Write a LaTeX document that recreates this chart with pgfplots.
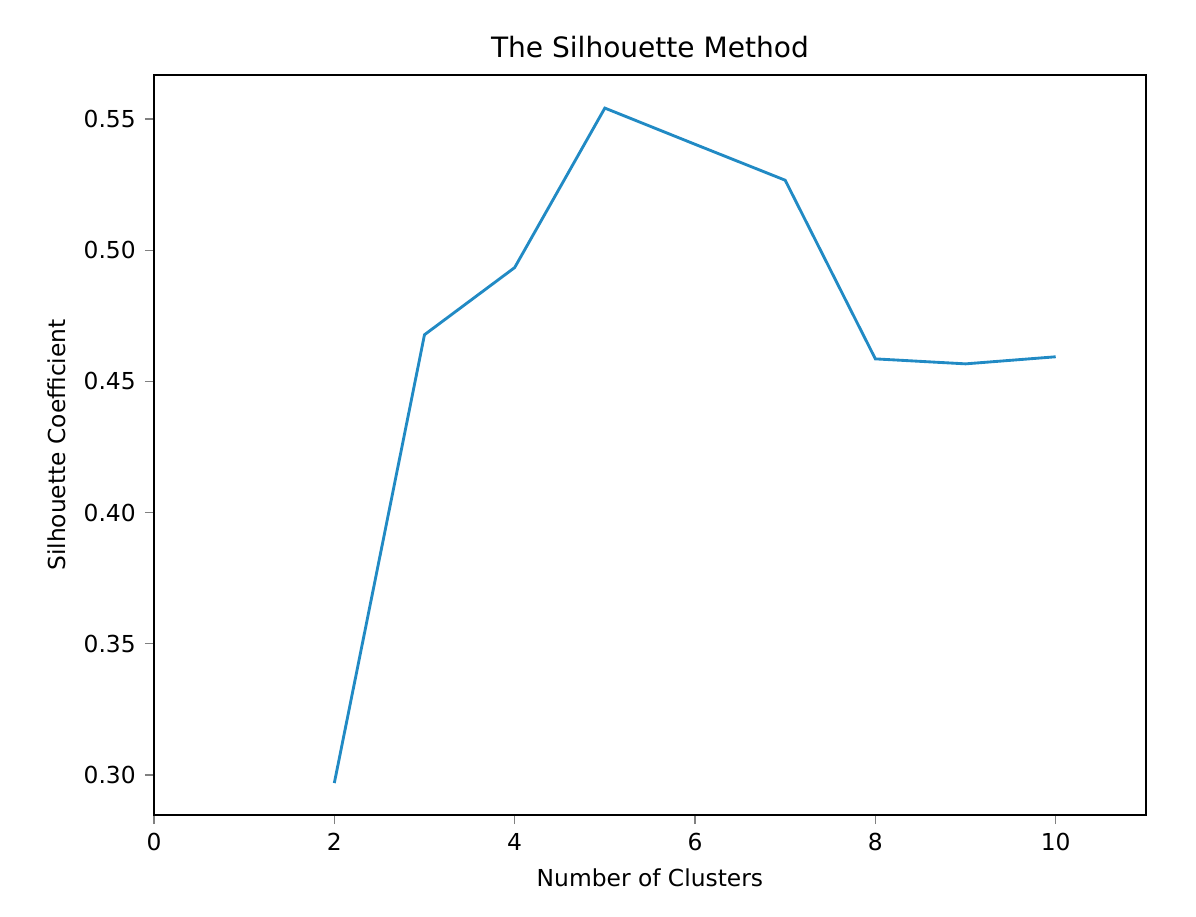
\documentclass[border=0pt]{standalone}
\usepackage{pgfplots}
\pgfplotsset{compat=1.18}
\usepackage{fontspec}
\setmainfont{DejaVu Sans}
\definecolor{lc}{RGB}{33,138,196}
\begin{document}
\begin{tikzpicture}
\begin{axis}[
  scale only axis, width=382pt, height=285pt,
  xmin=0, xmax=11, ymin=0.2847, ymax=0.5668,
  xtick={0,2,4,6,8,10},
  ytick={0.30,0.35,0.40,0.45,0.50,0.55},
  yticklabel style={/pgf/number format/.cd,fixed,fixed zerofill,precision=2},
  /pgf/number format/assume math mode=true,
  tick align=outside, tick pos=left,
  major tick length=3.5pt,
  tick style={line width=0.5pt},
  ticklabel style={font=\fontsize{9}{11}\selectfont},
  label style={font=\fontsize{9}{11}\selectfont},
  title style={font=\fontsize{10.8}{13}\selectfont, yshift=-3pt},
  title={The Silhouette Method},
  xlabel={Number of Clusters},
  ylabel={Silhouette Coefficient},
  axis line style={line width=0.5pt},
]
\addplot[lc, line width=1.1pt] coordinates {
(2,0.2969) (3,0.4678) (4,0.4934) (5,0.5542) (6,0.5404) (7,0.5267) (8,0.4586) (9,0.4567) (10,0.4594)};
\end{axis}
\path[use as bounding box] ([xshift=-59.3pt,yshift=-39pt]current axis.south west) rectangle ([xshift=19.3pt,yshift=28.9pt]current axis.north east);
\end{tikzpicture}
\end{document}
